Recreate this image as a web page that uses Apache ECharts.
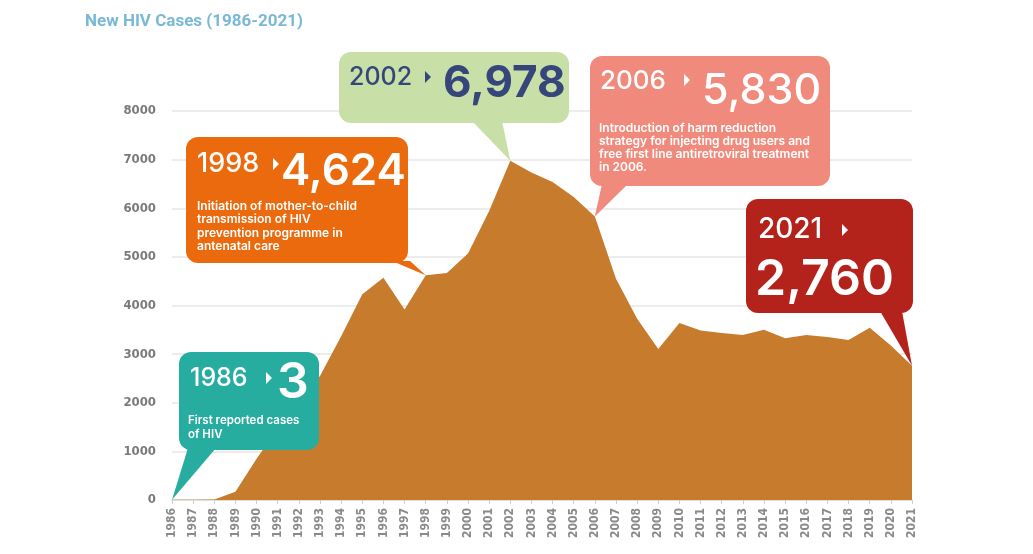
<!DOCTYPE html>
<html>
<head>
<meta charset="utf-8">
<script src="https://cdn.jsdelivr.net/npm/echarts@6/dist/echarts.min.js"></script>
<style>
  html, body { margin: 0; padding: 0; background: #fff; }
  #main { width: 1033px; height: 554px; }
</style>
</head>
<body>
<div id="main"></div>
<script>
// data
const years = ['1986', '1987', '1988', '1989', '1990', '1991', '1992', '1993', '1994', '1995',
  '1996', '1997', '1998', '1999', '2000', '2001', '2002', '2003', '2004', '2005',
  '2006', '2007', '2008', '2009', '2010', '2011', '2012', '2013', '2014', '2015',
  '2016', '2017', '2018', '2019', '2020', '2021'];
const cases = [3, 5, 10, 170, 850, 1470, 2020, 2550, 3370, 4230,
  4570, 3920, 4624, 4670, 5070, 5945, 6978, 6735, 6540, 6230,
  5830, 4550, 3725, 3105, 3640, 3485, 3435, 3395, 3500, 3325,
  3395, 3350, 3290, 3540, 3175, 2760];
const yMax = 8000;
const yStep = 1000;

// callout texts
const noteYears = ['1986', '1998', '2002', '2006', '2021'];
const noteValues = ['3', '4,624', '6,978', '5,830', '2,760'];
const noteLines = [
  ['First reported cases', 'of HIV'],
  ['Initiation of mother-to-child', 'transmission of HIV', 'prevention programme in', 'antenatal care'],
  [],
  ['Introduction of harm reduction', 'strategy for injecting drug users and', 'free first line antiretroviral treatment', 'in 2006.'],
  []
];

// layout of the callout boxes (pixels)
const boxes = [
  { x: 179, y: 352, w: 140, h: 98, fill: '#27ad9f', ink: '#fff', tail: [188, 216],
    yr: [190, 378, 25], tri: [266, 378], val: [277, 383, 50, 600], desc: [188, 421, 14, 11.5] },
  { x: 186, y: 137, w: 222, h: 126, fill: '#ea6a0d', ink: '#fff', tail: [392, 410],
    yr: [197, 164, 27], tri: [273, 164], val: [281, 172, 44, 600], desc: [197, 206, 13.5, 12] },
  { x: 339, y: 52, w: 230, h: 71, fill: '#c8e0a8', ink: '#37467a', tail: [472, 502],
    yr: [349, 77, 25], tri: [425, 77], val: [443, 84, 44, 700], desc: [0, 0, 0, 0] },
  { x: 590, y: 56, w: 240, h: 130, fill: '#f08a7c', ink: '#fff', tail: [602, 628],
    yr: [600, 81, 26], tri: [684, 80], val: [702, 91, 43, 500], desc: [599, 128, 13, 12] },
  { x: 746, y: 199, w: 167, h: 114, fill: '#b4231b', ink: '#fff', tail: [880, 902],
    yr: [758, 230, 28], tri: [842, 230], val: [755, 280, 50, 600], desc: [0, 0, 0, 0] }
];
const noteIdx = noteYears.map(function (y) { return years.indexOf(y); });

const font = 'Inter, "Open Sans", sans-serif';
const axisFont = '"DejaVu Sans Condensed", "Liberation Sans Narrow", Roboto, sans-serif';

const myChart = echarts.init(document.getElementById('main'), null, { renderer: 'canvas' });
const option = {
  animation: false,
  backgroundColor: '#fff',
  title: {
    text: 'New HIV Cases (1986-2021)',
    left: 80,
    top: 8,
    textStyle: {
      color: '#7ab9d6',
      fontSize: 17,
      fontWeight: 'bold',
      fontFamily: 'Roboto, sans-serif'
    }
  },
  grid: {
    left: 172,
    right: 121,
    top: 111,
    bottom: 54
  },
  xAxis: {
    type: 'category',
    data: years,
    boundaryGap: false,
    axisLine: { lineStyle: { color: '#dcdcdc', width: 1.5 } },
    axisTick: { show: true, alignWithLabel: true, length: 4, lineStyle: { color: '#cfcfcf' } },
    axisLabel: {
      rotate: 90,
      interval: 0,
      margin: 8,
      color: '#8a8a8a',
      fontSize: 12,
      fontWeight: 'bold',
      fontFamily: axisFont
    }
  },
  yAxis: {
    type: 'value',
    min: 0,
    max: yMax,
    interval: yStep,
    axisLine: { show: false },
    axisTick: { show: false },
    splitLine: { lineStyle: { color: '#e6e6e6', width: 1.5 } },
    axisLabel: {
      margin: 16,
      color: '#7a7a7a',
      fontSize: 13,
      fontWeight: 'bold',
      fontFamily: axisFont,
      formatter: function (v) { return String(v); }
    }
  },
  series: [
    {
      name: 'New HIV cases',
      type: 'line',
      data: cases,
      symbol: 'none',
      smooth: false,
      lineStyle: { width: 0 },
      areaStyle: { color: '#c77b2c', opacity: 1 },
      z: 2
    }
  ]
};
myChart.setOption(option);

// callouts, with the tail pointing at the data point
const graphics = [];
boxes.forEach(function (b, i) {
  const tip = myChart.convertToPixel({ seriesIndex: 0 }, [noteIdx[i], cases[noteIdx[i]]]);
  graphics.push({
    type: 'polygon',
    z: 100,
    shape: { points: [[b.tail[0], b.y + b.h - 2], [b.tail[1], b.y + b.h - 2], tip] },
    style: { fill: b.fill }
  });
  graphics.push({
    type: 'rect',
    z: 100,
    shape: { x: b.x, y: b.y, width: b.w, height: b.h, r: 12 },
    style: { fill: b.fill }
  });
  graphics.push({
    type: 'text',
    z: 101,
    x: b.yr[0],
    y: b.yr[1],
    style: {
      text: noteYears[i],
      fill: b.ink,
      fontSize: b.yr[2],
      fontWeight: 500,
      fontFamily: font,
      verticalAlign: 'middle'
    }
  });
  graphics.push({
    type: 'polygon',
    z: 101,
    shape: { points: [[b.tri[0], b.tri[1] - 6], [b.tri[0] + 6, b.tri[1]], [b.tri[0], b.tri[1] + 6]] },
    style: { fill: b.ink }
  });
  graphics.push({
    type: 'text',
    z: 101,
    x: b.val[0],
    y: b.val[1],
    style: {
      text: noteValues[i],
      fill: b.ink,
      fontSize: b.val[2],
      fontWeight: b.val[3],
      fontFamily: font,
      verticalAlign: 'middle'
    }
  });
  noteLines[i].forEach(function (line, k) {
    graphics.push({
      type: 'text',
      z: 101,
      x: b.desc[0],
      y: b.desc[1] + k * b.desc[2],
      style: {
        text: line,
        fill: b.ink,
        fontSize: b.desc[3],
        fontWeight: 600,
        fontFamily: font,
        verticalAlign: 'middle'
      }
    });
  });
});
myChart.setOption({ graphic: graphics });
</script>
</body>
</html>
